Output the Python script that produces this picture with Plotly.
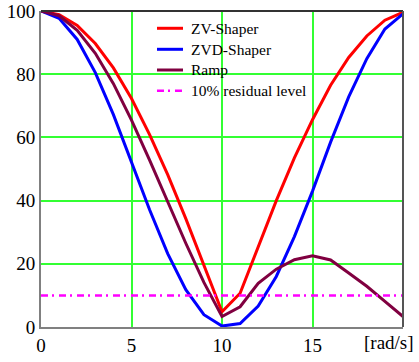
import plotly.graph_objects as go

omega = [0, 1, 2, 3, 4, 5, 6, 7, 8, 9, 10, 11, 12, 13, 14, 15, 16, 17, 18, 19, 20]
zv_shaper = [100, 98.8, 95.4, 89.7, 82.0, 72.3, 60.9, 48.2, 34.3, 19.7, 4.8,
             10.7, 25.6, 40.0, 53.5, 65.6, 76.5, 85.3, 92.1, 97.1, 99.6]
zvd_shaper = [100, 97.7, 91.0, 80.5, 67.2, 52.3, 37.1, 23.2, 11.8, 3.9, 0.3,
              1.1, 6.6, 16.0, 28.6, 43.0, 58.5, 72.8, 84.9, 94.3, 99.1]
ramp = [100, 98.5, 93.9, 86.6, 77.0, 65.5, 52.8, 39.6, 26.5, 14.1, 3.3,
        6.4, 13.8, 18.3, 21.3, 22.5, 21.2, 17.1, 12.9, 8.1, 3.3]
level_x = [0, 20]
level_y = [10, 10]

x_ticks = [0, 5, 10, 15]
y_ticks = [0, 20, 40, 60, 80, 100]
x_unit_label = "[rad/s]"

series_names = ["ZV-Shaper", "ZVD-Shaper", "Ramp", "10% residual level"]
series_colors = ["#ff0000", "#0000ff", "#800040", "#ff00ff"]
LEVEL_DASH = "7px,4px,2px,5px"

SERIF = "Liberation Serif"

fig = go.Figure()
for ys, name, col in zip([zv_shaper, zvd_shaper, ramp], series_names[:3], series_colors[:3]):
    fig.add_trace(go.Scatter(x=omega, y=ys, mode="lines", name=name,
                             line=dict(color=col, width=3), showlegend=False))
fig.add_trace(go.Scatter(x=level_x, y=level_y, mode="lines", name=series_names[3],
                         line=dict(color=series_colors[3], width=2.5, dash=LEVEL_DASH),
                         showlegend=False))

fig.update_layout(
    width=419, height=362,
    autosize=False,
    margin=dict(l=41, r=16, t=11, b=35, autoexpand=False),
    paper_bgcolor="white", plot_bgcolor="white",
    font=dict(family=SERIF, color="black"),
    showlegend=False,
    xaxis=dict(range=[0, 20], tickvals=x_ticks, ticks="", showgrid=True,
               gridcolor="#33ff33", gridwidth=1.5, zeroline=False, automargin=False,
               showline=True, linecolor="#808080", linewidth=2,
               tickfont=dict(family=SERIF, size=19, color="black")),
    yaxis=dict(range=[0, 100], tickvals=y_ticks, ticks="", showgrid=True,
               gridcolor="#33ff33", gridwidth=1.5, zeroline=False, automargin=False,
               showline=True, linecolor="#808080", linewidth=2,
               tickfont=dict(family=SERIF, size=19, color="black")),
)
# top and right frame
fig.add_shape(type="line", xref="paper", yref="paper", x0=0, x1=1, y0=1, y1=1,
              line=dict(color="#333333", width=2))
fig.add_shape(type="line", xref="paper", yref="paper", x0=1, x1=1, y0=0, y1=1,
              line=dict(color="#555555", width=2))
fig.add_annotation(text=x_unit_label, xref="paper", yref="paper", x=1.035, y=0,
                   xanchor="right", yanchor="top", yshift=-3, showarrow=False,
                   font=dict(family=SERIF, size=19, color="black"))

# legend box (white, covering the grid)
fig.add_shape(type="rect", xref="paper", yref="paper", x0=0.309, x1=0.729,
              y0=0.687, y1=0.994, fillcolor="white", line=dict(width=0), layer="between")
row_y = [0.9453, 0.8788, 0.8133, 0.7478]
for i, (name, col) in enumerate(zip(series_names, series_colors)):
    dash = LEVEL_DASH if i == 3 else "solid"
    fig.add_shape(type="line", xref="paper", yref="paper", x0=0.3204, x1=0.3923,
                  y0=row_y[i], y1=row_y[i],
                  line=dict(color=col, width=3 if i < 3 else 2.5, dash=dash))
    fig.add_annotation(text=name, xref="paper", yref="paper", x=0.4088, y=row_y[i],
                       xanchor="left", yanchor="middle", showarrow=False,
                       font=dict(family=SERIF, size=15.5, color="black"))

fig.write_html("out.html", config={"displayModeBar": False},
               post_script="document.body.style.margin='0';document.body.style.padding='0';")
